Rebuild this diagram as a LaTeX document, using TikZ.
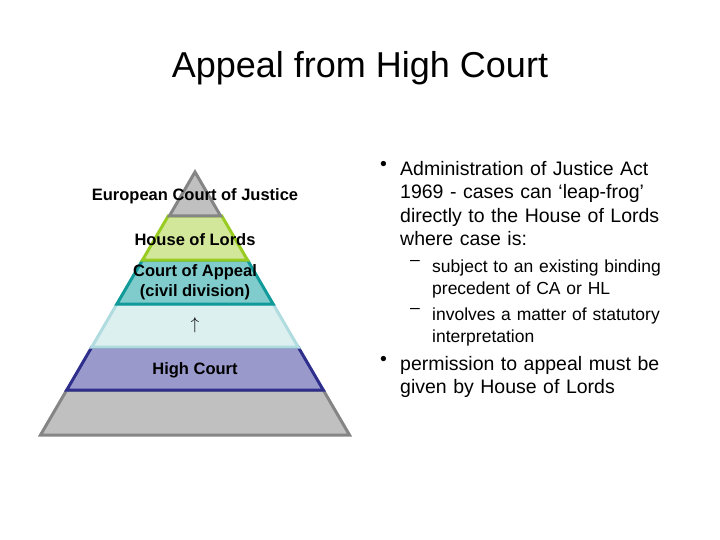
\documentclass[tikz,border=0pt]{standalone}
\usepackage{fontspec}
\setmainfont{Liberation Sans}
\definecolor{g1f}{HTML}{C0C0C0}\definecolor{g1d}{HTML}{858585}
\definecolor{grf}{HTML}{D2E79A}\definecolor{grd}{HTML}{99CC22}
\definecolor{tef}{HTML}{80CCCC}\definecolor{ted}{HTML}{109A9A}
\definecolor{cyf}{HTML}{DDF0F0}\definecolor{cyd}{HTML}{B0DCE0}
\definecolor{blf}{HTML}{9999CC}\definecolor{bld}{HTML}{2E2E8C}
\begin{document}
\begin{tikzpicture}[x=1pt,y=-1pt,
  band/.style={line width=3pt,line join=miter},
  lab/.style={font=\bfseries\fontsize{16.5}{20}\selectfont,align=center,inner sep=0pt},
  txt/.style={font=\fontsize{19.5}{23.5}\selectfont,align=left,anchor=north west,inner sep=0pt,text width=#1},
  sub/.style={font=\fontsize{17.5}{22}\selectfont,align=left,anchor=north west,inner sep=0pt,text width=#1},
  bul/.style={font=\fontsize{19.5}{23.5}\selectfont,anchor=north west,inner sep=0pt},
  dsh/.style={font=\fontsize{17.5}{22}\selectfont,anchor=north west,inner sep=0pt}]
\useasboundingbox (0,0) rectangle (720,540);
\newcommand\bandshape[4]{% y1 y2 fill draw
  \filldraw[band,fill=#3,draw=#4] ({195-0.583*(#1-170)},#1) -- ({195+0.583*(#1-170)},#1) -- ({195+0.583*(#2-170)},#2) -- ({195-0.583*(#2-170)},#2) -- cycle;}
\bandshape{390}{435}{g1f}{g1d}
\bandshape{347}{390}{blf}{bld}
\bandshape{304}{347}{cyf}{cyd}
\bandshape{260}{304}{tef}{ted}
\bandshape{216}{260}{grf}{grd}
\filldraw[band,fill=g1f,draw=g1d] (195,172) -- ({195+0.583*44},216) -- ({195-0.583*44},216) -- cycle;
\node[font=\fontsize{36}{40}\selectfont] (title) at (360,68) {Appeal from High Court};
\node[lab] (ecj) at (195,196) {European Court of Justice};
\node[lab] (hl) at (195,240) {House of Lords};
\node[lab] (ca) at (195,282) {Court of Appeal\\(civil division)};
\node[lab] (arr) at (195,325) {$\uparrow$};
\node[lab] (hc) at (195,370) {High Court};
\node[txt=270pt] (b1) at (400,161) {Administration of Justice Act 1969 - cases can ‘leap-frog’ directly to the House of Lords where case is:};
\node[bul] (d1) at (380,161) {•};
\node[sub=240pt] (s1) at (432,260) {subject to an existing binding precedent of CA or HL};
\node[dsh] (e1) at (410,260) {–};
\node[sub=240pt] (s2) at (432,308) {involves a matter of statutory interpretation};
\node[dsh] (e2) at (410,308) {–};
\node[txt=270pt] (b2) at (400,356) {permission to appeal must be given by House of Lords};
\node[bul] (d2) at (380,356) {•};
\end{tikzpicture}
\end{document}
